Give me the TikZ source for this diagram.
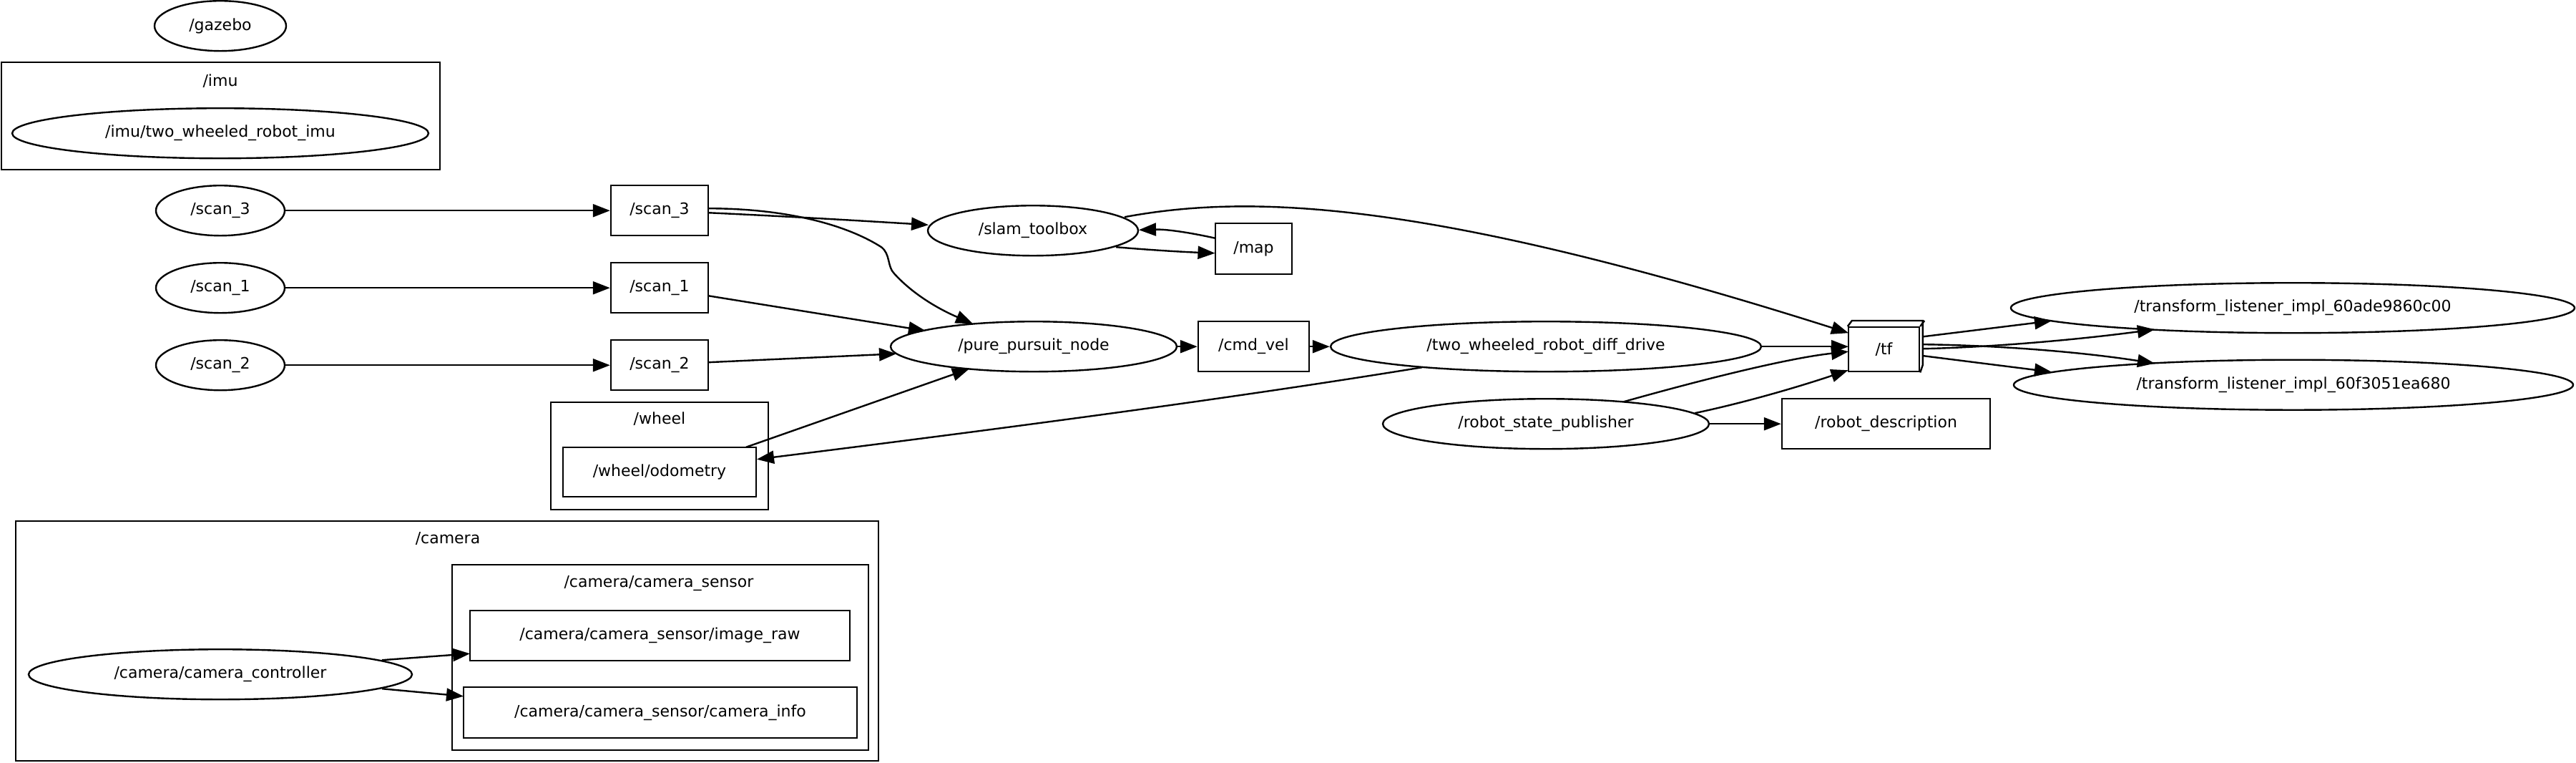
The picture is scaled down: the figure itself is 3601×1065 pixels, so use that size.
\documentclass[tikz,border=0pt]{standalone}
\usepackage{fontspec}
\setmainfont{DejaVu Sans}
\usetikzlibrary{shapes.geometric,arrows.meta,calc}
\begin{document}
\begin{tikzpicture}[x=0.25pt,y=-0.25pt,
  every node/.style={font=\fontsize{5.5pt}{6.6pt}\selectfont, inner sep=0pt, line width=0.6pt},
  nodeell/.style 2 args={draw, ellipse, minimum width=#1*0.5pt, minimum height=#2*0.5pt},
  topic/.style 2 args={draw, rectangle, minimum width=#1*0.25pt, minimum height=#2*0.25pt},
  clus/.style 2 args={draw, rectangle, minimum width=#1*0.25pt, minimum height=#2*0.25pt},
  arr/.style={line width=0.6pt, -{Triangle[length=6pt,width=4.5pt]}}]
\fill[white] (0,0) rectangle (3601,1065);
% clusters
\node[clus={613}{150}] (imuC) at (308.5,162) {};
\node (imuL) at (308,113) {/imu};
\node[clus={304}{150}] (wheelC) at (922,637) {};
\node (wheelL) at (922,585) {/wheel};
\node[clus={1206}{335}] (camC) at (625,895.5) {};
\node (camL) at (626,752) {/camera};
\node[clus={582}{259}] (sensC) at (923,918.5) {};
\node (sensL) at (921,815) {/camera/camera\_sensor};
% nodes
\node[nodeell={92}{35}] (gazebo) at (308,36) {/gazebo};
\node[nodeell={291}{35}] (imuN) at (308,186) {/imu/two\_wheeled\_robot\_imu};
\node[nodeell={90}{35}] (scan3e) at (308,294) {/scan\_3};
\node[nodeell={90}{35}] (scan1e) at (308,402) {/scan\_1};
\node[nodeell={90}{35}] (scan2e) at (308,510) {/scan\_2};
\node[topic={136}{70}] (scan3b) at (922,294) {/scan\_3};
\node[topic={136}{70}] (scan1b) at (922,402) {/scan\_1};
\node[topic={136}{70}] (scan2b) at (922,510) {/scan\_2};
\node[nodeell={147}{35}] (slam) at (1444,322) {/slam\_toolbox};
\node[topic={107}{71}] (map) at (1752.5,347.5) {/map};
\node[nodeell={200}{35}] (pp) at (1445,484) {/pure\_pursuit\_node};
\node[topic={155}{70}] (cmd) at (1752.5,484) {/cmd\_vel};
\node[nodeell={301}{35}] (diff) at (2161,484) {/two\_wheeled\_robot\_diff\_drive};
\node[nodeell={228}{35}] (rsp) at (2161,592) {/robot\_state\_publisher};
\node[topic={291}{70}] (rd) at (2636.5,592) {/robot\_description};
\node[topic={99}{62}] (tf) at (2633.5,488) {/tf};
\draw[line width=0.6pt] (tf.north west) -- ++(6,-8) -- ++(99,0) -- ++(0,62) -- (tf.south east);
\draw[line width=0.6pt] (tf.north east) -- ++(6,-8);
\node[nodeell={394}{35}] (l1) at (3205,430) {/transform\_listener\_impl\_60ade9860c00};
\node[nodeell={391}{35}] (l2) at (3206,537.5) {/transform\_listener\_impl\_60f3051ea680};
\node[topic={270}{69}] (odom) at (922,659.5) {/wheel/odometry};
\node[topic={531}{70}] (img) at (922.5,888) {/camera/camera\_sensor/image\_raw};
\node[topic={550}{71}] (info) at (923,995.5) {/camera/camera\_sensor/camera\_info};
\node[nodeell={268}{35}] (camctl) at (308,942) {/camera/camera\_controller};
% edges
\draw[arr] (scan3e) -- (scan3b);
\draw[arr] (scan1e) -- (scan1b);
\draw[arr] (scan2e) -- (scan2b);
\draw[arr] ($(scan3b)+(68,3)$) .. controls (1100,302) and (1200,308) .. ($(slam)+(-146,-8)$);
\draw[arr] ($(scan3b)+(68,-3)$) .. controls (1110,291) and (1190,318) .. (1232,345)
   .. controls (1245,355) and (1240,372) .. (1250,382)
   .. controls (1280,415) and (1320,435) .. ($(pp)+(-85,-32)$);
\draw[arr] ($(scan1b)+(68,11)$) -- ($(pp)+(-151,-22)$);
\draw[arr] ($(scan2b)+(68,-4)$) -- ($(pp)+(-192,10)$);
\draw[arr] ($(odom)+(121,-35)$) -- ($(pp)+(-90,31)$);
\draw[arr] ($(diff)+(-173,29)$) .. controls (1700,560) and (1350,605) .. ($(odom)+(136,-18)$);
\draw[arr] ($(slam)+(116,23)$) .. controls (1620,350) and (1660,352) .. ($(map)+(-54,6)$);
\draw[arr] ($(map)+(-54,-15)$) .. controls (1660,324) and (1630,320) .. ($(slam)+(148,-1)$);
\draw[arr] ($(slam)+(128,-19)$) .. controls (1750,270) and (2000,280) .. ($(tf)+(-49.5,-23)$);
\draw[arr] (pp) -- (cmd);
\draw[arr] (cmd) -- (diff);
\draw[arr] (diff.east) -- ($(tf)+(-49.5,-4)$);
\draw[arr] ($(rsp)+(109,-31)$) .. controls (2380,530) and (2500,500) .. ($(tf)+(-49.5,3)$);
\draw[arr] ($(rsp)+(208,-15)$) .. controls (2450,560) and (2530,535) .. ($(tf)+(-50,29)$);
\draw[arr] (rsp) -- (rd);
\draw[arr] ($(tf)+(55.5,-18)$) -- ($(l1)+(-337,18)$);
\draw[arr] ($(tf)+(55.5,-1)$) .. controls (2780,485) and (2900,475) .. ($(l1)+(-193,30)$);
\draw[arr] ($(tf)+(55.5,-7)$) .. controls (2780,482) and (2900,490) .. ($(l2)+(-194,-30)$);
\draw[arr] ($(tf)+(55.5,9)$) -- ($(l2)+(-338,-18)$);
\draw[arr] ($(camctl)+(226,-20)$) -- ($(img)+(-265.5,25)$);
\draw[arr] ($(camctl)+(226,20)$) -- ($(info)+(-275,-23)$);
\end{tikzpicture}
\end{document}
